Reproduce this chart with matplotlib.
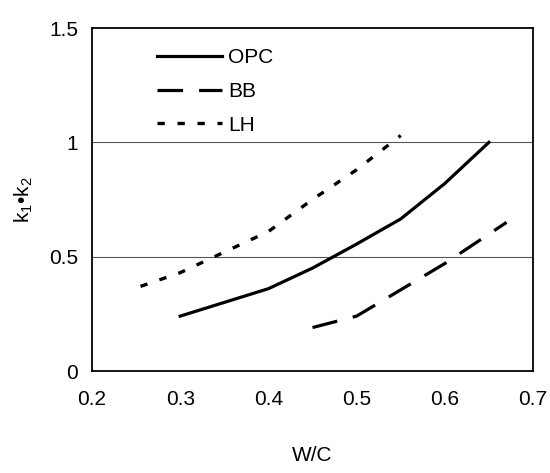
import numpy as np
import matplotlib
matplotlib.use("Agg")
import matplotlib.pyplot as plt

plt.rcParams['font.family'] = ['Liberation Sans', 'DejaVu Sans']
plt.rcParams['mathtext.fontset'] = 'custom'
plt.rcParams['mathtext.rm'] = 'Liberation Sans'
plt.rcParams['mathtext.it'] = 'Liberation Sans'

# data
opc_x = [0.30, 0.35, 0.40, 0.45, 0.50, 0.55, 0.60, 0.65]
opc_y = [0.24, 0.30, 0.36, 0.45, 0.555, 0.665, 0.82, 1.00]

bb_x = [0.45, 0.50, 0.55, 0.60, 0.67]
bb_y = [0.19, 0.24, 0.355, 0.47, 0.65]

lh_x = [0.255, 0.30, 0.35, 0.40, 0.45, 0.50, 0.55]
lh_y = [0.37, 0.43, 0.52, 0.61, 0.75, 0.88, 1.03]

x_ticks = [0.2, 0.3, 0.4, 0.5, 0.6, 0.7]
y_ticks = [0, 0.5, 1, 1.5]
y_tick_labels = ['0', '0.5', '1', '1.5']

fig = plt.figure(figsize=(5.5, 4.73), dpi=100)
ax = fig.add_axes([92 / 550, 1 - 371 / 473, 441 / 550, 343 / 473])

for y in [0.5, 1.0]:
    ax.axhline(y, color='#555555', lw=0.8, zorder=1)

ax.plot(opc_x, opc_y, color='black', lw=2.3, ls='-', label='OPC', zorder=3)
ax.plot(bb_x, bb_y, color='black', lw=2.3, ls=(0, (8, 5)), label='BB', zorder=3)
ax.plot(lh_x, lh_y, color='black', lw=2.4, ls=(0, (2.2, 3.8)), label='LH', zorder=3)

ax.set_xlim(0.2, 0.7)
ax.set_ylim(0, 1.5)
ax.set_xticks(x_ticks)
ax.set_xticklabels([f'{v:.1f}' for v in x_ticks])
ax.set_yticks(y_ticks)
ax.set_yticklabels(y_tick_labels)
ax.tick_params(length=0, labelsize=15, pad=10)
ax.tick_params(axis='x', pad=14)
for s in ax.spines.values():
    s.set_linewidth(1.3)

ax.set_xlabel('W/C', fontsize=15, labelpad=26)
ax.set_ylabel(r'k$_1$•k$_2$', fontsize=15, labelpad=10)

ax.legend(loc='upper left', bbox_to_anchor=(0.105, 0.995), frameon=False,
          fontsize=15, handlelength=3.1, handletextpad=0.3, labelspacing=0.7)

fig.savefig('out.png', dpi=100)
